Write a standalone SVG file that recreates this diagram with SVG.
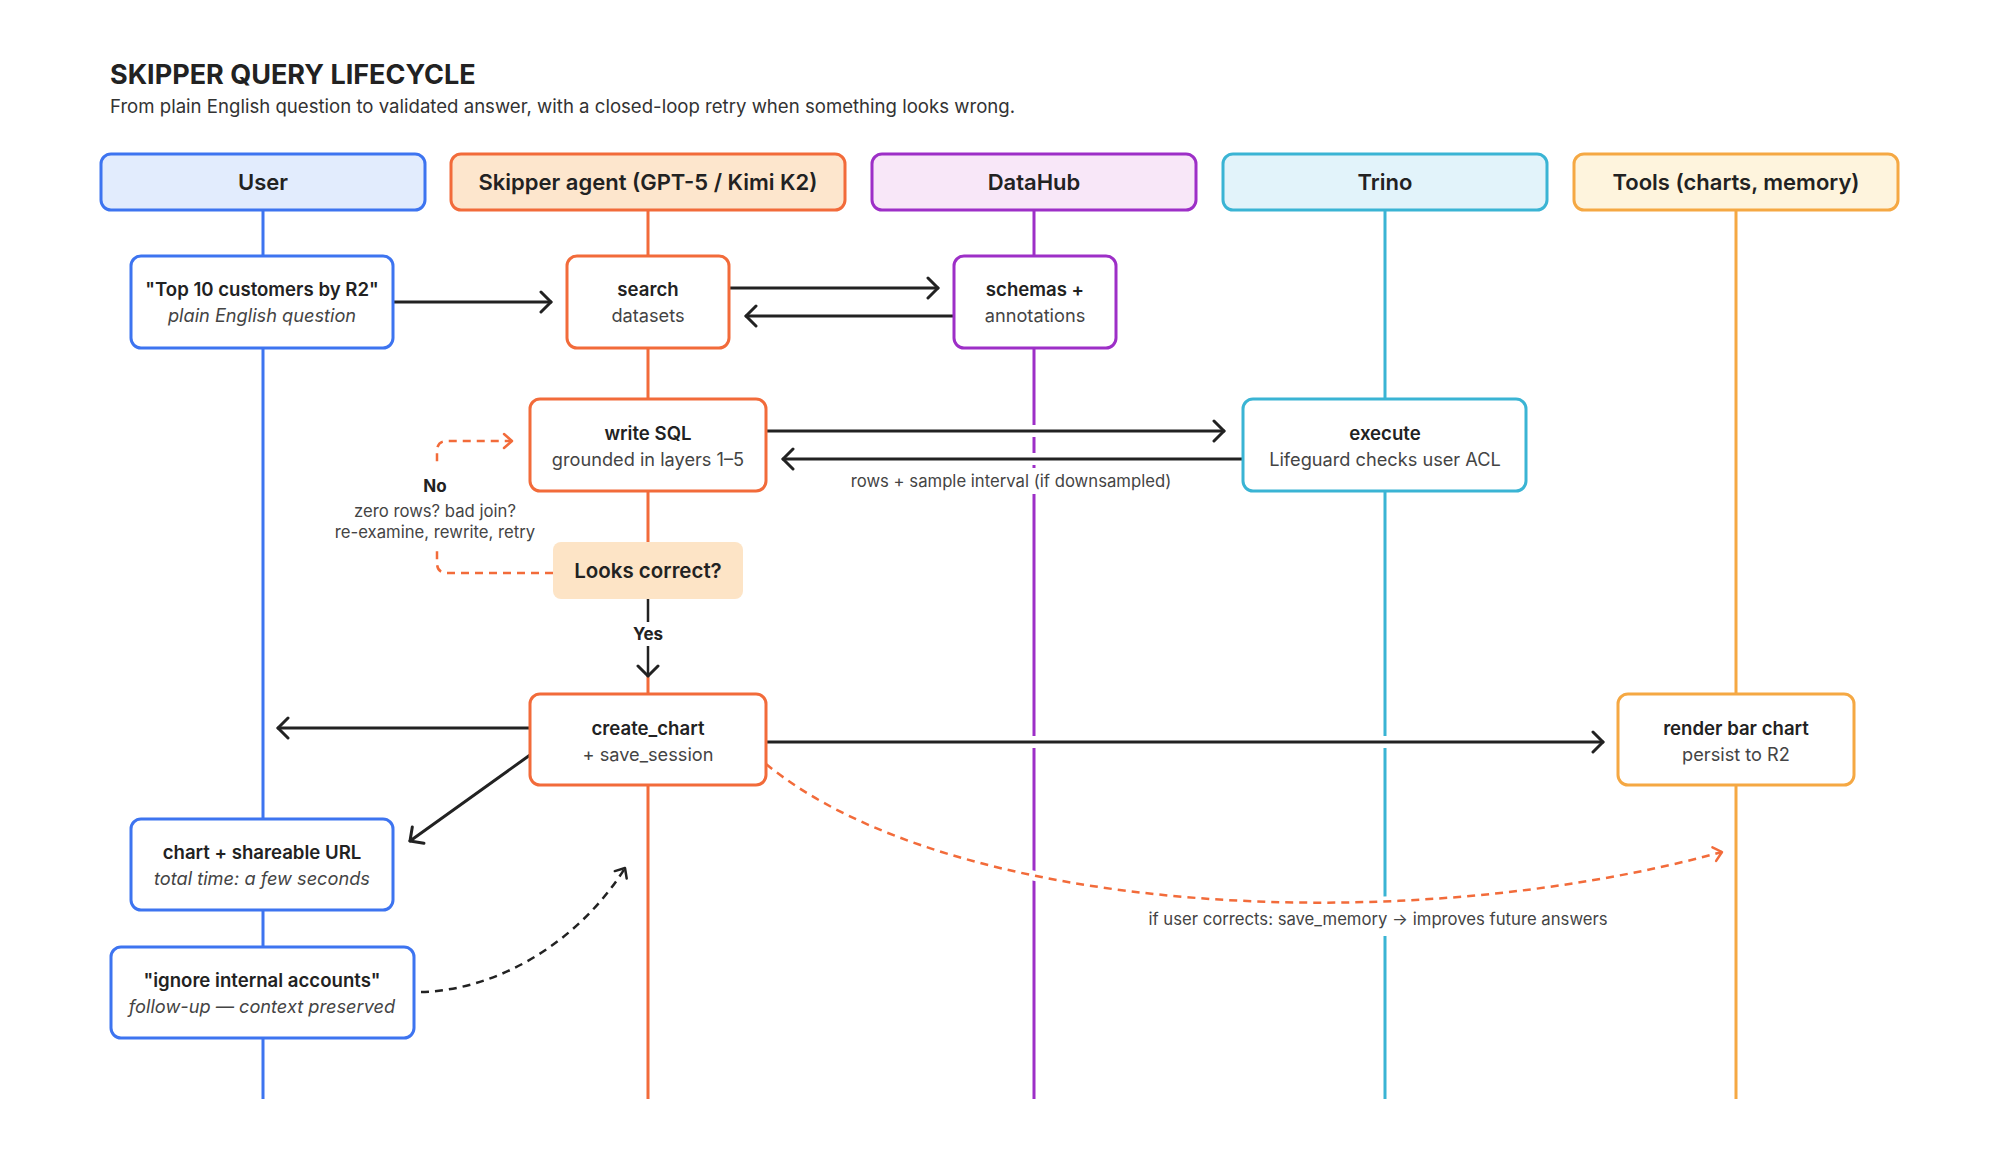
<svg xmlns="http://www.w3.org/2000/svg" width="1999" height="1159" viewBox="0 0 1999 1159">
<style>
text{font-family:Inter,"Noto Sans","Liberation Sans",sans-serif;fill:#222;}
.title{font-size:27px;font-weight:700;}
.sub{font-size:18.6px;fill:#333;}
.hd{font-size:22px;font-weight:600;text-anchor:middle;}
.b{font-size:18.6px;font-weight:600;text-anchor:middle;}
.r{font-size:18.2px;font-weight:400;text-anchor:middle;fill:#444;}
.i{font-size:18.2px;font-style:italic;text-anchor:middle;fill:#444;}
.lbl{font-size:16.7px;text-anchor:middle;fill:#444;}
.lblb{font-size:17px;font-weight:700;text-anchor:middle;}
.halo{fill:none;stroke:#fff;stroke-width:12;}
.ar{fill:none;stroke:#222;stroke-width:3;stroke-linecap:round;}
.dor{fill:none;stroke:#f26b3a;stroke-width:2.5;stroke-dasharray:8 6;}
.dbk{fill:none;stroke:#222;stroke-width:2.5;stroke-dasharray:8 6;}
.ll{stroke-width:3;}
.nb{fill:#fff;stroke-width:3;}
.bl{stroke:#3d74f0;}
.or{stroke:#f26b3a;}
.pu{stroke:#9d2fc7;}
.cy{stroke:#3ab4d4;}
.am{stroke:#f5a843;}
</style>
<defs>
<marker id="ah" markerWidth="18" markerHeight="26" refX="13" refY="12" orient="auto" markerUnits="userSpaceOnUse"><path d="M3,2 L13,12 L3,22" fill="none" stroke="#222" stroke-width="3" stroke-linecap="round" stroke-linejoin="round"/></marker>
<marker id="aho" markerWidth="14" markerHeight="20" refX="10" refY="9" orient="auto" markerUnits="userSpaceOnUse"><path d="M2,2 L10,9 L2,16" fill="none" stroke="#f26b3a" stroke-width="2.5" stroke-linecap="round" stroke-linejoin="round"/></marker>
<marker id="ahk" markerWidth="14" markerHeight="20" refX="10" refY="9" orient="auto" markerUnits="userSpaceOnUse"><path d="M2,2 L10,9 L2,16" fill="none" stroke="#222" stroke-width="2.5" stroke-linecap="round" stroke-linejoin="round"/></marker>
</defs>
<rect width="1999" height="1159" fill="#fff"/>
<text class="title" x="110" y="84">SKIPPER QUERY LIFECYCLE</text>
<text class="sub" x="110" y="113">From plain English question to validated answer, with a closed-loop retry when something looks wrong.</text>

<g id="lifelines">
<line class="ll bl" x1="263" y1="210" x2="263" y2="1099"/>
<line class="ll or" x1="648" y1="210" x2="648" y2="1099"/>
<line class="ll pu" x1="1034" y1="210" x2="1034" y2="1099"/>
<line class="ll cy" x1="1385" y1="210" x2="1385" y2="1099"/>
<line class="ll am" x1="1736" y1="210" x2="1736" y2="1099"/>
</g>

<g id="headers">
<g id="h-user"><rect x="101" y="154" width="324" height="56" rx="10" fill="#e2ecfd" stroke="#3d74f0" stroke-width="3"/><text class="hd" x="263" y="190">User</text></g>
<g id="h-agent"><rect x="451" y="154" width="394" height="56" rx="10" fill="#fde6cd" stroke="#f26b3a" stroke-width="3"/><text class="hd" x="648" y="190">Skipper agent (GPT-5 / Kimi K2)</text></g>
<g id="h-datahub"><rect x="872" y="154" width="324" height="56" rx="10" fill="#f8e7f8" stroke="#9d2fc7" stroke-width="3"/><text class="hd" x="1034" y="190">DataHub</text></g>
<g id="h-trino"><rect x="1223" y="154" width="324" height="56" rx="10" fill="#e2f3fa" stroke="#3ab4d4" stroke-width="3"/><text class="hd" x="1385" y="190">Trino</text></g>
<g id="h-tools"><rect x="1574" y="154" width="324" height="56" rx="10" fill="#fef4dd" stroke="#f5a843" stroke-width="3"/><text class="hd" x="1736" y="190">Tools (charts, memory)</text></g>
</g>

<g id="connectors">
<path class="halo" d="M393,302 H551"/>
<path class="halo" d="M729,288 H938"/>
<path class="halo" d="M954,316 H746"/>
<path class="halo" d="M766,431 H1224"/>
<path class="halo" d="M1243,459 H783"/>
<path class="halo" d="M648,599 V676"/>
<path class="halo" d="M530,728 H278"/>
<path class="halo" d="M530,755 L410,841"/>
<path class="halo" d="M766,742 H1603"/>
<path class="halo" d="M766,764 C950,915 1400,940 1722,852" style="stroke-width:10"/>
<path class="halo" d="M421,992 C500,990 580,940 625,868" style="stroke-width:10"/>

<path class="ar" d="M393,302 H551" marker-end="url(#ah)"/>
<path class="ar" d="M729,288 H938" marker-end="url(#ah)"/>
<path class="ar" d="M954,316 H746" marker-end="url(#ah)"/>
<path class="ar" d="M766,431 H1224" marker-end="url(#ah)"/>
<path class="ar" d="M1243,459 H783" marker-end="url(#ah)"/>
<path class="ar" d="M648,599 V676" marker-end="url(#ah)" style="stroke-width:2.5"/>
<path class="ar" d="M530,728 H278" marker-end="url(#ah)"/>
<path class="ar" d="M530,755 L410,841" marker-end="url(#ah)"/>
<path class="ar" d="M766,742 H1603" marker-end="url(#ah)"/>
<path class="dor" d="M553,573 H447 Q437,573 437,563 V451 Q437,441 447,441 H512" marker-end="url(#aho)"/>
<path class="dor" d="M766,764 C950,915 1400,940 1722,852" marker-end="url(#aho)"/>
<path class="dbk" d="M421,992 C500,990 580,940 625,868" marker-end="url(#ahk)"/>

<rect x="328" y="466" width="212" height="82" fill="#fff"/>
<text class="lblb" x="435" y="492">No</text>
<text class="lbl" x="435" y="517">zero rows? bad join?</text>
<text class="lbl" x="435" y="538">re-examine, rewrite, retry</text>
<rect x="836" y="468" width="350" height="26" fill="#fff"/>
<text class="lbl" x="1011" y="487">rows + sample interval (if downsampled)</text>
<rect x="626" y="622" width="44" height="24" fill="#fff"/>
<text class="lblb" x="648" y="640">Yes</text>
<rect x="1132" y="904" width="492" height="32" fill="#fff"/>
<text class="lbl" x="1378" y="925">if user corrects: save_memory → improves future answers</text>
</g>

<g id="nodes">
<g id="n-question"><rect class="nb bl" x="131" y="256" width="262" height="92" rx="10"/><text class="b" x="262" y="296">"Top 10 customers by R2"</text><text class="i" x="262" y="322">plain English question</text></g>
<g id="n-search"><rect class="nb or" x="567" y="256" width="162" height="92" rx="10"/><text class="b" x="648" y="296">search</text><text class="r" x="648" y="322">datasets</text></g>
<g id="n-schemas"><rect class="nb pu" x="954" y="256" width="162" height="92" rx="10"/><text class="b" x="1035" y="296">schemas +</text><text class="r" x="1035" y="322">annotations</text></g>
<g id="n-writesql"><rect class="nb or" x="530" y="399" width="236" height="92" rx="10"/><text class="b" x="648" y="440">write SQL</text><text class="r" x="648" y="466">grounded in layers 1–5</text></g>
<g id="n-execute"><rect class="nb cy" x="1243" y="399" width="283" height="92" rx="10"/><text class="b" x="1385" y="440">execute</text><text class="r" x="1385" y="466">Lifeguard checks user ACL</text></g>
<g id="n-check"><rect x="553" y="542" width="190" height="57" rx="8" fill="#fde4c6"/><text class="b" x="648" y="578" style="font-size:20.5px">Looks correct?</text></g>
<g id="n-createchart"><rect class="nb or" x="530" y="694" width="236" height="91" rx="10"/><text class="b" x="648" y="735">create_chart</text><text class="r" x="648" y="761">+ save_session</text></g>
<g id="n-render"><rect class="nb am" x="1618" y="694" width="236" height="91" rx="10"/><text class="b" x="1736" y="735">render bar chart</text><text class="r" x="1736" y="761">persist to R2</text></g>
<g id="n-chartout"><rect class="nb bl" x="131" y="819" width="262" height="91" rx="10"/><text class="b" x="262" y="859">chart + shareable URL</text><text class="i" x="262" y="885">total time: a few seconds</text></g>
<g id="n-followup"><rect class="nb bl" x="111" y="947" width="303" height="91" rx="10"/><text class="b" x="262" y="987">"ignore internal accounts"</text><text class="i" x="262" y="1013">follow-up — context preserved</text></g>
</g>
</svg>
